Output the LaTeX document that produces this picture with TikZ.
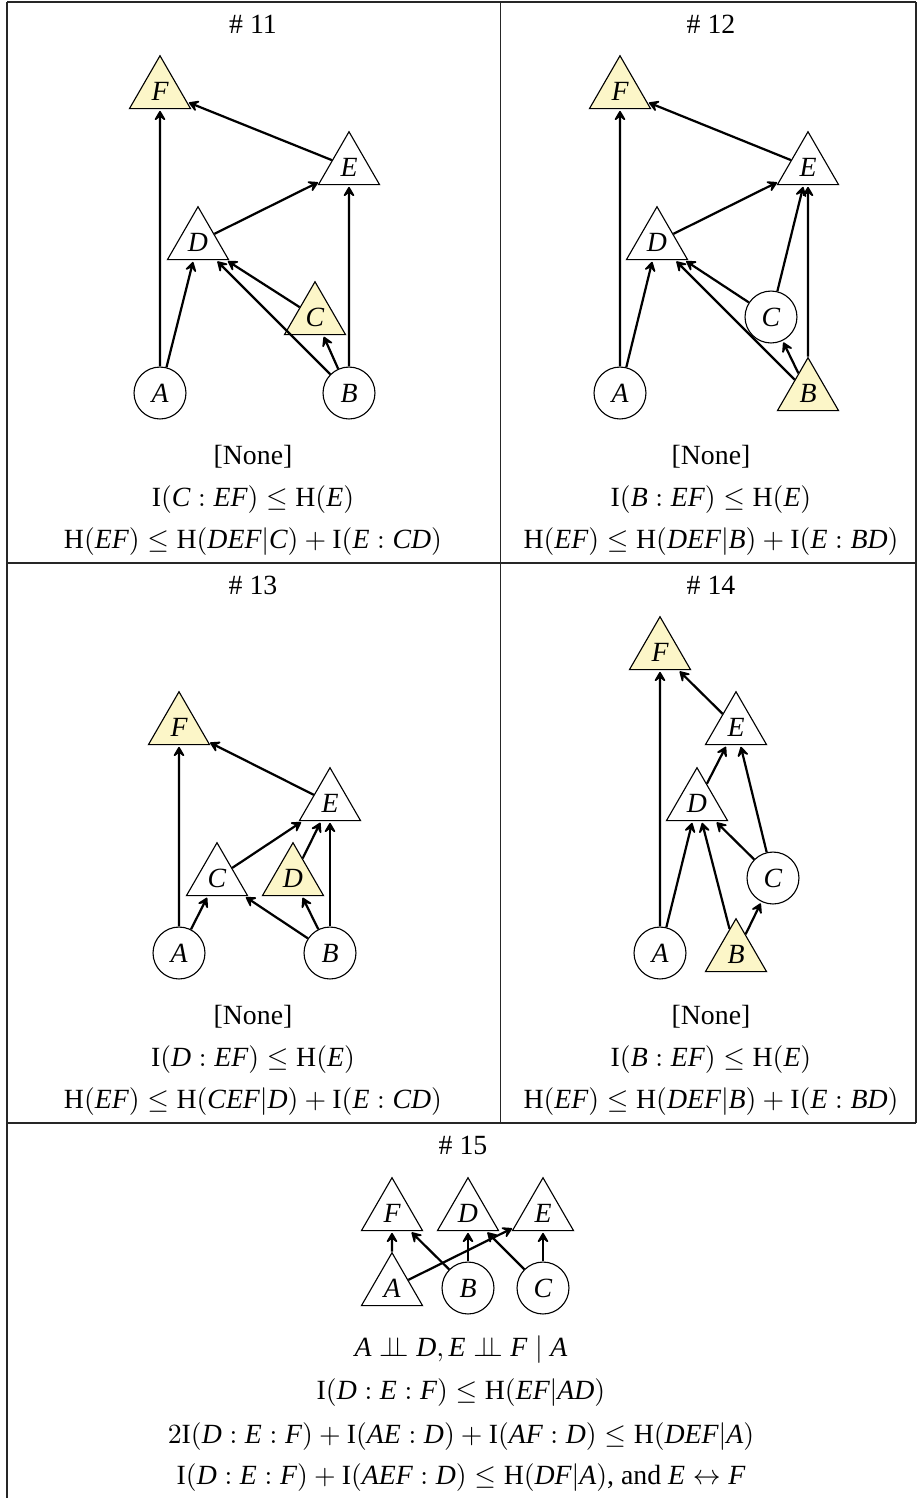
\documentclass[tikz,border=0pt]{standalone}
\usepackage{fontspec}
\setmainfont{Liberation Serif}
\usetikzlibrary{shapes.geometric,arrows.meta}
\definecolor{hl}{RGB}{252,246,200}
\newcommand\vv[1]{\mathit{#1}}
\newcommand\Iop{\mathrm{I}}
\newcommand\Hop{\mathrm{H}}
\newcommand\indepsym{\mathrel{\perp\!\!\!\perp}}
\tikzset{
  tri/.style={regular polygon, regular polygon sides=3, draw, line width=0.4pt,
    minimum size=25.4pt, inner sep=0pt, font=\itshape},
  circ/.style={circle, draw, line width=0.4pt, minimum size=18.7pt, inner sep=0pt, font=\itshape},
  yel/.style={fill=hl},
  edge/.style={-{Stealth[length=4.6pt,width=5.4pt,inset=2.2pt,round]}, line width=0.8pt, shorten >=0.6pt},
  txt/.style={inner sep=0pt, font=\fontsize{10}{12}\selectfont},
  rule/.style={line width=0.45pt, black!85}
}
\begin{document}
\begin{tikzpicture}[x=0.36pt, y=-0.36pt]
\useasboundingbox (0,0) rectangle (917,1498);
% table rules
\draw[rule] (7,2) -- (916,2);
\draw[rule] (7,2) -- (7,1498);
\draw[rule] (916,2) -- (916,1123);
\draw[rule] (500.5,2) -- (500.5,1123);
\draw[rule] (7,563) -- (916,563);
\draw[rule] (7,1123) -- (916,1123);

% titles
\node[txt] (t11) at (253,24) {\# 11};
\node[txt] (t12) at (711,24) {\# 12};
\node[txt] (t13) at (253,585) {\# 13};
\node[txt] (t14) at (711,585) {\# 14};
\node[txt] (t15) at (463,1145) {\# 15};

% ---------- #11
\node[tri,yel] (F1) at (160,91) {F};
\node[tri] (E1) at (349,167) {E};
\node[tri] (D1) at (198,242) {D};
\node[tri,yel] (C1) at (315,317) {C};
\node[circ] (A1) at (160,393) {A};
\node[circ] (B1) at (349,393) {B};
\draw[edge] (A1) -- (F1);
\draw[edge] (A1) -- (D1);
\draw[edge] (B1) -- (D1);
\draw[edge] (C1) -- (D1);
\draw[edge] (B1) -- (C1);
\draw[edge] (B1) -- (E1);
\draw[edge] (D1) -- (E1);
\draw[edge] (E1) -- (F1);
\node[txt] (n11a) at (253,457) {[None]};
\node[txt] (n11b) at (253,500) {$\Iop(\vv{C}:\vv{EF})\leq\Hop(\vv{E})$};
\node[txt] (n11c) at (253,542) {$\Hop(\vv{EF})\leq\Hop(\vv{DEF}|\vv{C})+\Iop(\vv{E}:\vv{CD})$};

% ---------- #12
\node[tri,yel] (F2) at (620,91) {F};
\node[tri] (E2) at (808,167) {E};
\node[tri] (D2) at (657,242) {D};
\node[circ] (C2) at (771,317) {C};
\node[circ] (A2) at (620,393) {A};
\node[tri,yel] (B2) at (808,393) {B};
\draw[edge] (A2) -- (F2);
\draw[edge] (A2) -- (D2);
\draw[edge] (B2) -- (D2);
\draw[edge] (C2) -- (D2);
\draw[edge] (B2) -- (C2);
\draw[edge] (C2) -- (E2);
\draw[edge] (B2) -- (E2);
\draw[edge] (D2) -- (E2);
\draw[edge] (E2) -- (F2);
\node[txt] (n12a) at (711,457) {[None]};
\node[txt] (n12b) at (711,500) {$\Iop(\vv{B}:\vv{EF})\leq\Hop(\vv{E})$};
\node[txt] (n12c) at (711,542) {$\Hop(\vv{EF})\leq\Hop(\vv{DEF}|\vv{B})+\Iop(\vv{E}:\vv{BD})$};

% ---------- #13
\node[tri,yel] (F3) at (179,727) {F};
\node[tri] (E3) at (330,803) {E};
\node[tri] (C3) at (217,878) {C};
\node[tri,yel] (D3) at (293,878) {D};
\node[circ] (A3) at (179,953) {A};
\node[circ] (B3) at (330,953) {B};
\draw[edge] (A3) -- (F3);
\draw[edge] (A3) -- (C3);
\draw[edge] (B3) -- (C3);
\draw[edge] (B3) -- (D3);
\draw[edge] (B3) -- (E3);
\draw[edge] (C3) -- (E3);
\draw[edge] (D3) -- (E3);
\draw[edge] (E3) -- (F3);
\node[txt] (n13a) at (253,1017) {[None]};
\node[txt] (n13b) at (253,1060) {$\Iop(\vv{D}:\vv{EF})\leq\Hop(\vv{E})$};
\node[txt] (n13c) at (253,1102) {$\Hop(\vv{EF})\leq\Hop(\vv{CEF}|\vv{D})+\Iop(\vv{E}:\vv{CD})$};

% ---------- #14
\node[tri,yel] (F4) at (660,652) {F};
\node[tri] (E4) at (736,727) {E};
\node[tri] (D4) at (697,803) {D};
\node[circ] (C4) at (773,878) {C};
\node[circ] (A4) at (660,953) {A};
\node[tri,yel] (B4) at (736,954) {B};
\draw[edge] (A4) -- (F4);
\draw[edge] (A4) -- (D4);
\draw[edge] (B4) -- (D4);
\draw[edge] (B4) -- (C4);
\draw[edge] (C4) -- (D4);
\draw[edge] (C4) -- (E4);
\draw[edge] (D4) -- (E4);
\draw[edge] (E4) -- (F4);
\node[txt] (n14a) at (711,1017) {[None]};
\node[txt] (n14b) at (711,1060) {$\Iop(\vv{B}:\vv{EF})\leq\Hop(\vv{E})$};
\node[txt] (n14c) at (711,1102) {$\Hop(\vv{EF})\leq\Hop(\vv{DEF}|\vv{B})+\Iop(\vv{E}:\vv{BD})$};

% ---------- #15
\node[tri] (F5) at (392,1213) {F};
\node[tri] (D5) at (468,1213) {D};
\node[tri] (E5) at (543,1213) {E};
\node[tri] (A5) at (392,1288) {A};
\node[circ] (B5) at (468,1288) {B};
\node[circ] (C5) at (543,1288) {C};
\draw[edge] (A5) -- (F5);
\draw[edge] (B5) -- (F5);
\draw[edge] (B5) -- (D5);
\draw[edge] (A5) -- (E5);
\draw[edge] (C5) -- (D5);
\draw[edge] (C5) -- (E5);
\node[txt] (n15a) at (461,1350) {$\vv{A}\indepsym\vv{D},\vv{E}\indepsym\vv{F}\mid\vv{A}$};
\node[txt] (n15b) at (461,1393) {$\Iop(\vv{D}:\vv{E}:\vv{F})\leq\Hop(\vv{EF}|\vv{AD})$};
\node[txt] (n15c) at (461,1437) {$2\Iop(\vv{D}:\vv{E}:\vv{F})+\Iop(\vv{AE}:\vv{D})+\Iop(\vv{AF}:\vv{D})\leq\Hop(\vv{DEF}|\vv{A})$};
\node[txt] (n15d) at (461,1478) {$\Iop(\vv{D}:\vv{E}:\vv{F})+\Iop(\vv{AEF}:\vv{D})\leq\Hop(\vv{DF}|\vv{A})$, and $\vv{E}\leftrightarrow\vv{F}$};
\end{tikzpicture}
\end{document}
